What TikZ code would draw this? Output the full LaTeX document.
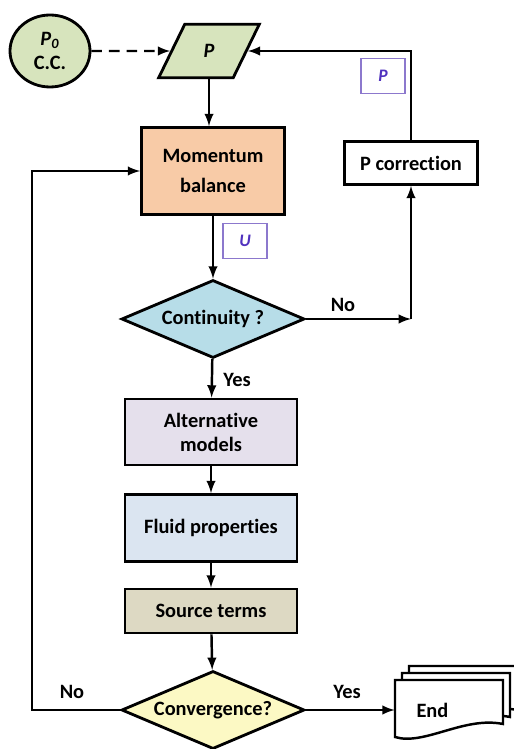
\documentclass[tikz,border=0pt]{standalone}
\usepackage{fontspec}
\setmainfont[Ligatures=NoCommon]{Carlito}
\usepackage{tikz}
\usetikzlibrary{arrows,shapes.geometric,positioning}

\definecolor{ccgreen}{RGB}{215,228,189}
\definecolor{mpeach}{RGB}{248,203,167}
\definecolor{ccyan}{RGB}{183,221,232}
\definecolor{alav}{RGB}{229,224,236}
\definecolor{fblue}{RGB}{219,229,241}
\definecolor{skhaki}{RGB}{221,217,195}
\definecolor{cyellow}{RGB}{252,249,196}
\definecolor{vframe}{RGB}{140,120,205}
\definecolor{vtext}{RGB}{80,50,190}

\tikzset{
  box/.style={draw, line width=1.6pt, align=center, inner sep=2pt},
  test/.style={diamond, draw, line width=1.6pt, aspect=2.35, inner sep=0pt,
    minimum width=3.66cm, minimum height=1.56cm},
  varbox/.style={draw=vframe, line width=0.8pt, text=vtext, font=\bfseries\itshape,
    minimum width=0.88cm, minimum height=0.70cm},
  arr/.style={-latex, line width=1.4pt},
  doc/.style={draw, fill=white, line width=1.4pt}
}

\begin{document}
\begin{tikzpicture}[font=\bfseries\fontsize{11.6}{13.6}\selectfont]
        \useasboundingbox (0,0) rectangle (10.28,14.98);

        \node[draw, ellipse, line width=1.6pt, fill=ccgreen, minimum width=1.6cm, minimum height=1.44cm, inner sep=0pt, align=center] (C) at (1.00,13.96) {\textit{P}\textsubscript{\textit{0}}\\C.C.};
        \node[trapezium, trapezium left angle=64, trapezium right angle=116, draw, line width=1.6pt, fill=ccgreen, minimum width=2.02cm, minimum height=0.94cm] (P) at (4.18,13.96) {\textit{P}};
        \node[box, fill=mpeach, minimum width=2.86cm, minimum height=1.74cm] (M) at (4.26,11.56) {Momentum\\[3pt]balance};
        \node[varbox] (U) at (4.90,10.16) {U};
        \node[test, fill=ccyan] (Co) at (4.26,8.60) {Continuity ?};
        \node[box, fill=white, minimum width=2.66cm, minimum height=0.86cm] (Pc) at (8.22,11.72) {P correction};
        \node[varbox] (Pv) at (7.66,13.46) {P};
        \node (No1) at (6.86,8.88) {No};
        \node (Yes1) at (4.74,7.38) {Yes};

        \node[box, fill=alav, minimum width=3.44cm, minimum height=1.32cm] (A) at (4.22,6.34) {Alternative\\models};
        \node[box, fill=fblue, minimum width=3.44cm, minimum height=1.34cm] (F) at (4.22,4.42) {Fluid properties};
        \node[box, fill=skhaki, minimum width=3.44cm, minimum height=0.88cm] (S) at (4.22,2.76) {Source terms};
        \node[test, fill=cyellow] (Cv) at (4.26,0.78) {Convergence?};
        \node (No2) at (1.44,1.14) {No};
        \node (Yes2) at (6.94,1.14) {Yes};

        \begin{scope}[shift={(8.98,0.78)}]
          \draw[doc] (-0.80,0.88) -- (1.36,0.88) -- (1.36,0) .. controls (0.58,0.16) and (-0.22,-0.44) .. (-0.80,-0.26) -- cycle;
          \draw[doc] (-0.94,0.74) -- (1.22,0.74) -- (1.22,-0.14) .. controls (0.44,0.02) and (-0.36,-0.58) .. (-0.94,-0.40) -- cycle;
          \draw[doc] (-1.08,0.60) -- (1.08,0.60) -- (1.08,-0.28) .. controls (0.30,-0.12) and (-0.50,-0.72) .. (-1.08,-0.54) -- cycle;
        \end{scope}
        \node[minimum width=2.16cm, minimum height=1.1cm, text width=1.3cm, align=left] (E) at (8.98,0.78) {End};

        \coordinate (K1) at (Co.east -| Pc.south);
        \coordinate (K2) at (Pc.north |- P.east);
        \coordinate (K3) at (0.64,0.78);
        \coordinate (K4) at (K3 |- M.west);

        \draw[arr, dash pattern=on 6pt off 4pt] (C) -- (P);
        \draw[arr] (P.south) -- (P.south |- M.north);
        \draw[arr] (M) -- (Co);
        \draw[arr] (Co) -- (A);
        \draw[arr] (A) -- (F);
        \draw[arr] (F) -- (S);
        \draw[arr] (S) -- (Cv);
        \draw[arr] (Co.east) -- (K1);
        \draw[arr] (K1) -- (Pc.south);
        \draw[arr] (Pc.north) -- (K2) -- (P.east);
        \draw[arr] (Cv.west) -- (K3) -- (K4) -- (M.west);
        \draw[arr] (Cv.east) -- (E.west);
\end{tikzpicture}
\end{document}
